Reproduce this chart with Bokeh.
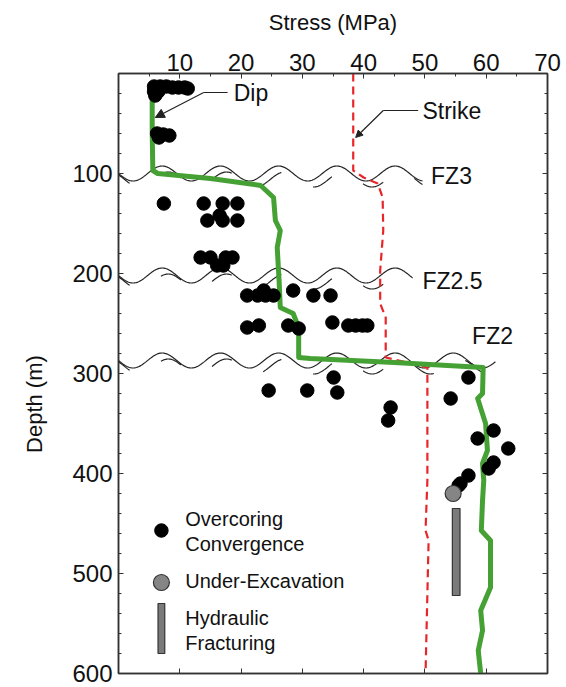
import numpy as np
from bokeh.plotting import figure
from bokeh.models import Range1d, LinearAxis, FixedTicker, Arrow, NormalHead
from bokeh.core.properties import value
from bokeh.embed import file_html
from bokeh.resources import INLINE

FONT = "Liberation Sans"

# ---------------- data ----------------
# Dip stress profile (green)
dip_stress = [5.5, 5.5, 5.6, 6.4, 15.0, 23.2, 25.3, 25.6, 26.4, 25.9, 26.2, 26.4, 28.5, 29.4, 29.4,
              31.3, 45.0, 59.5, 59.4, 58.6, 59.9, 60.2, 59.4, 59.6, 59.4, 59.2, 60.7, 60.7, 59.1, 59.4, 58.7, 59.1]
dip_depth = [10, 60, 97, 100, 105, 112, 124, 147, 157, 174, 207, 234, 240, 254, 284,
             285, 289, 294, 320, 325, 350, 377, 390, 407, 427, 457, 467, 514, 537, 557, 577, 600]

# Strike stress profile (red dashed)
strike_stress = [38.3, 38.3, 40.0, 42.3, 43.1, 43.2, 42.7, 42.7, 43.6, 43.6, 47.1, 50.4, 50.4, 50.1, 50.6, 50.1]
strike_depth = [0, 97, 104, 110, 124, 157, 197, 230, 244, 284, 289, 294, 407, 457, 467, 600]

# Overcoring / convergence measurements
oc_stress = [5.8, 6.8, 7.8, 8.8, 9.8, 10.8, 11.3, 5.8, 6.5, 6.0,
             6.3, 7.3, 8.3, 6.6,
             7.4, 13.9, 17.0, 19.4, 14.5, 17.0, 19.4, 16.5,
             13.4, 15.0, 17.5, 18.6, 16.1, 17.1,
             21.0, 22.7, 24.0, 25.3, 23.7, 28.5, 31.8, 34.6,
             21.0, 22.9, 27.7, 29.4, 34.9, 37.5, 38.7, 39.8, 40.6,
             35.1, 24.5, 30.8, 35.7, 44.4, 44.0,
             57.1, 54.2, 61.2, 58.6, 63.6, 61.2, 60.4, 57.1, 55.8, 55.5]
oc_depth = [13, 13, 13, 14, 14, 14, 15, 18, 18, 22,
            60, 61, 62, 64,
            130, 130, 130, 130, 147, 147, 147, 142,
            184, 184, 184, 184, 192, 192,
            222, 222, 222, 222, 217, 217, 222, 222,
            254, 252, 252, 255, 249, 252, 252, 252, 252,
            304, 317, 317, 319, 334, 347,
            304, 325, 357, 365, 375, 389, 395, 402, 410, 412]

# Under-excavation
ue_stress = [54.6]
ue_depth = [420]

# Hydraulic fracturing range
hf_stress = [55.1]
hf_top = [435]
hf_bottom = [522]

# Fault zones
fz_names = ["FZ3", "FZ2.5", "FZ2"]
fz_depth = [100, 202, 287]
fz_end = [49.6, 48.0, 61.5]
fz_label_x = [51.0, 49.6, 57.7]
fz_label_y = [102, 207, 262]

x_ticks = [10, 20, 30, 40, 50, 60, 70]
y_ticks = [100, 200, 300, 400, 500, 600]

# ---------------- figure ----------------
p = figure(width=566, height=687, output_backend="svg", toolbar_location=None,
           x_range=Range1d(0, 70), y_range=Range1d(600, 0),
           x_axis_location="above", min_border_left=118, min_border_right=19,
           min_border_top=73, min_border_bottom=14)
p.xgrid.visible = False
p.ygrid.visible = False
p.outline_line_color = "#333333"
p.outline_line_width = 1.5
p.background_fill_color = "white"
p.border_fill_color = "white"

AX_COL = "#333333"
TXT = "#111111"

def style_axis(ax, labels=True):
    ax.axis_line_color = AX_COL
    ax.axis_line_width = 1.5
    ax.major_tick_line_color = AX_COL
    ax.minor_tick_line_color = AX_COL
    ax.major_tick_in = 5
    ax.major_tick_out = 0
    ax.minor_tick_in = 3
    ax.minor_tick_out = 0
    ax.major_label_text_font = FONT
    ax.major_label_text_font_size = "24px"
    ax.major_label_text_color = TXT
    ax.axis_label_text_font = FONT
    ax.axis_label_text_font_style = "normal"
    ax.axis_label_text_font_size = "22px"
    ax.axis_label_text_color = TXT
    if not labels:
        ax.major_label_text_font_size = "0px"
        ax.major_label_text_alpha = 0

xtop = p.xaxis[0]
xtop.ticker = FixedTicker(ticks=x_ticks, minor_ticks=list(range(5, 70, 5)))
style_axis(xtop)
xtop.major_label_standoff = 3
xtop.axis_label = "Stress (MPa)"
xtop.axis_label_standoff = 16

yl = p.yaxis[0]
yl.ticker = FixedTicker(ticks=y_ticks, minor_ticks=list(range(0, 601, 20)))
style_axis(yl)
yl.major_label_standoff = 6
yl.axis_label = "Depth (m)" + "\u00a0" * 10
yl.axis_label_standoff = 22

xb = LinearAxis(ticker=FixedTicker(ticks=x_ticks, minor_ticks=[]))
style_axis(xb, labels=False)
p.add_layout(xb, "below")
yr = LinearAxis(ticker=FixedTicker(ticks=y_ticks, minor_ticks=list(range(0, 601, 20))))
style_axis(yr, labels=False)
p.add_layout(yr, "right")

# fault-zone wavy double lines
WAVE_LEN = 9.5   # MPa per wave
AMP = 7.5        # m
for d, xe, nm, lx, ly in zip(fz_depth, fz_end, fz_names, fz_label_x, fz_label_y):
    xs = np.linspace(0, xe, 400)
    y1 = d + AMP * np.sin(2 * np.pi * xs / WAVE_LEN)
    p.line(xs, y1, line_color="#222222", line_width=1.2)
    y2 = d + 6 + AMP * np.sin(2 * np.pi * (xs - 1.0) / WAVE_LEN)
    p.line(xs, y2, line_color="#222222", line_width=1.2, line_dash="22 36", line_dash_offset=8)
    p.text(x=[lx], y=[ly], text=[nm], text_font=value(FONT), text_font_size="23px",
           text_baseline="middle", text_align="left", text_color=TXT)

# strike (red dashed)
p.line(strike_stress, strike_depth, line_color="#e8262a", line_width=2.2, line_dash="8 5")
# dip (green)
p.line(dip_stress, dip_depth, line_color="#46a135", line_width=5, line_join="round")

# measurements
p.scatter(oc_stress, oc_depth, size=13.5, color="black")
p.vbar(x=hf_stress, top=hf_top, bottom=hf_bottom, width=1.25,
       fill_color="#7a7a7a", line_color="#333333", line_width=1.2)
p.scatter(ue_stress, ue_depth, size=16, fill_color="#858585", line_color="#333333", line_width=1.2)

# annotations: Dip / Strike
p.line([17.8, 13.9], [19, 19], line_color="#222222", line_width=1.2)
p.add_layout(Arrow(x_start=13.9, y_start=19, x_end=6.0, y_end=44, line_color="#222222",
                   line_width=1.2, end=NormalHead(size=9, fill_color="#222222", line_color="#222222")))
p.text(x=[18.8], y=[19], text=["Dip"], text_font=value(FONT), text_font_size="23px",
       text_baseline="middle", text_color=TXT)
p.line([48.9, 43.2], [37, 37], line_color="#222222", line_width=1.2)
p.add_layout(Arrow(x_start=43.2, y_start=37, x_end=38.7, y_end=64, line_color="#222222",
                   line_width=1.2, end=NormalHead(size=7, fill_color="#222222", line_color="#222222")))
p.text(x=[49.6], y=[37], text=["Strike"], text_font=value(FONT), text_font_size="23px",
       text_baseline="middle", text_color=TXT)

# legend (drawn)
LEG_X = 7.0
LEG_TX = 10.9
p.scatter([LEG_X], [457], size=13.5, color="black")
p.text(x=[LEG_TX, LEG_TX], y=[445, 470], text=["Overcoring", "Convergence"], text_font=value(FONT),
       text_font_size="20px", text_baseline="middle", text_color=TXT)
p.scatter([LEG_X], [509], size=16, fill_color="#858585", line_color="#333333", line_width=1.2)
p.text(x=[LEG_TX], y=[507], text=["Under-Excavation"], text_font=value(FONT),
       text_font_size="20px", text_baseline="middle", text_color=TXT)
p.vbar(x=[LEG_X], top=[530], bottom=[580], width=1.1,
       fill_color="#7a7a7a", line_color="#333333", line_width=1.2)
p.text(x=[LEG_TX, LEG_TX], y=[544, 569], text=["Hydraulic", "Fracturing"], text_font=value(FONT),
       text_font_size="20px", text_baseline="middle", text_color=TXT)

open("out.html", "w").write(file_html(p, INLINE))
